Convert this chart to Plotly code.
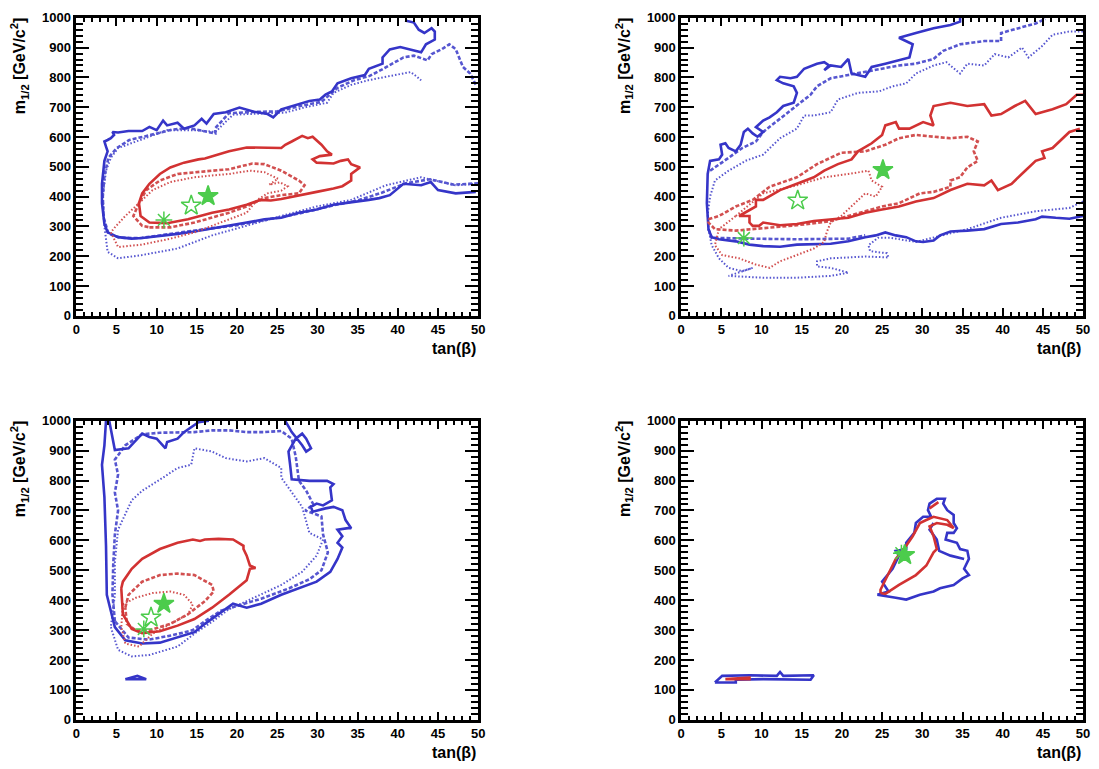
import plotly.graph_objects as go

# ---------------- data (tanβ, m1/2) ----------------
# Panel 1 (top-left)
P1_BLUE_SOLID = [(49.7,416),(47.2,411),(45,422),(44.1,449),(42.9,438),(40.7,443),(39,405),(37.7,395),(36.4,389),
    (34.2,380),(32,373),(29.9,357),(27.7,346),(25.5,329),(23.4,324),(21.2,313),(19,302),(16.9,293),(14.7,283),
    (12.6,275),(10.4,267),(8.2,261),(6.9,259),(5.2,264),(3.9,280),(3.5,308),(3.2,378),(3.2,443),(3.5,520),
    (3.9,552),(3.7,568),(3.5,585),(3.9,590),(4.3,596),(4.7,607),(4.5,617),(5.2,615),(6.5,620),(8.2,620),
    (9.1,634),(10,623),(10.8,655),(11.3,639),(12.6,648),(13.4,628),(14.7,639),(15.6,661),(16.2,645),(17.1,677),
    (18.6,683),(20.3,699),(22.1,685),(23.8,677),(24.5,666),(25.5,693),(27.7,710),(29,721),(30.3,726),(31,742),
    (31.8,753),(32.5,780),(34.2,797),(35.9,808),(36.4,829),(38.1,846),(38.1,867),(39,894),(40.3,902),(42,889),
    (42.9,884),(43.5,911),(44.6,927),(44.6,954),(44.2,965),(43.3,949),(42.6,960),(42,984),(40.9,991)]
P1_BLUE_DASH = [(50,445),(47,440),(44,458),(41,445),(38,413),(35,387),(32,371),(28,345),(24,324),(20,304),
    (16,291),(12,276),(8,261),(5.5,262),(4,276),(3.4,330),(3.3,400),(3.5,470),(4,530),(5,562),(6.6,590),(8.5,602),
    (10,612),(12,625),(14,630),(16,620),(17.3,612),(17.3,630),(19,680),(22,684),(25,686),(28,705),(30.5,718),
    (32.5,765),(34.5,790),(36.5,805),(38,826),(40.7,867),(42,873),(43.7,857),(44.2,878),(45.5,895),(46.4,911),
    (47.2,895),(48.1,835),(49,813),(49.8,770)]
P1_BLUE_DOT = [(49.8,443),(47.2,438),(42.9,465),(38.5,438),(34.2,389),(29.9,367),(25.5,335),(21.2,302),
    (16.9,270),(12.6,226),(8.2,204),(5.2,193),(3.9,215),(3.5,300),(3.3,400),(3.7,487),(4.3,530),(5.2,563),
    (7.4,585),(9.1,601),(11.3,623),(14.7,623),(17.3,617),(19.5,675),(23,680),(26,682),(28.5,700),(31.2,715),
    (32,748),(34.2,775),(36.4,791),(38.5,802),(40.3,813),(41.6,818),(42.4,802),(42.9,790)]
P1_RED_SOLID = [(7.8,378),(8,335),(9.1,313),(11.3,311),(13.9,324),(16.9,346),(19,357),(21.2,373),(22.9,389),
    (24.2,387),(25.5,392),(27.7,405),(29.9,416),(32,427),(33.1,435),(34.2,454),(34.2,476),(35.3,498),(34.2,509),
    (33.8,525),(32.9,520),(32,511),(29.9,514),(29.4,525),(30.3,536),(31.8,541),(31.2,552),(30.5,574),(29.9,590),
    (29.4,601),(28.8,596),(28.1,604),(26.8,585),(26,574),(25.5,563),(23.4,563),(21.2,565),(19,552),(16.9,536),
    (16,528),(15.2,525),(13.4,514),(11.7,498),(10.4,476),(9.1,443),(8.2,411),(7.8,378)]
P1_RED_DASH = [(9.1,297),(11.7,297),(14.7,313),(16.9,329),(19,346),(21.2,367),(23.4,395),(25.5,405),(27.7,411),
    (28.4,438),(27.7,454),(25.5,487),(23.4,509),(21.9,511),(19,492),(16.9,487),(14.7,482),(12.6,476),(10.4,454),
    (8.7,422),(7.8,378),(7.1,335),(8.2,302),(9.1,297)]
P1_RED_DOT = [(4.3,280),(5.2,231),(8.2,239),(11.7,259),(14.7,280),(16.9,302),(19,324),(21.2,346),(22.5,389),
    (23.8,411),(25.5,420),(26.3,435),(25.3,448),(24,440),(25.1,460),(23.4,482),(21.6,487),(19,476),(16.9,471),
    (14.7,465),(11.7,449),(9.5,422),(7.8,378),(6.1,335),(4.8,297),(4.3,280)]
P1_MARK_X = [16.4, 14.3, 10.9]
P1_MARK_Y = [402, 370, 322]

# Panel 2 (top-right)
P2_BLUE_SOLID = [(50,335),(48.3,326),(46.6,329),(44.9,333),(44.1,324),(41.9,313),(39.8,308),(37.7,291),(35.6,286),
    (33.5,283),(32.2,270),(31.4,253),(30.1,248),(29.2,250),(28,264),(26.7,270),(25.4,280),(24.2,270),(22.9,264),
    (20.8,250),(18.6,242),(14.4,239),(12.3,232),(10.2,234),(8.5,239),(6.8,250),(4.7,257),(3.8,264),(3.4,291),
    (3.2,378),(3.3,476),(3.6,520),(4.7,525),(5.1,541),(4.9,574),(5.5,579),(5.9,563),(6.8,552),(7.4,574),
    (7.8,617),(8.3,628),(8.9,612),(9.5,601),(10.2,617),(9.3,633),(10.2,655),(11,666),(11.9,683),(12.7,704),
    (14,715),(14.4,748),(14,770),(12.7,780),(11.9,791),(12.3,802),(13.6,797),(14.4,802),(15.3,829),(16.9,846),
    (17.8,851),(18.4,840),(17.8,824),(18.6,840),(19.9,835),(20.8,862),(21.2,813),(22.9,802),(23.7,835),
    (25.4,846),(27.1,857),(28.4,867),(28.8,911),(27.1,933),(29.2,949),(31.4,965),(33.5,976),(34.7,987),(34.7,1000)]
P2_BLUE_DASH = [(3.4,291),(3.8,262),(8.5,259),(14.4,257),(20.8,259),(22.9,270)]
P2_BLUE_DASH2 = [(3.6,487),(4.7,509),(5.9,530),(7.6,563),(9.3,585),(10.2,617),(12.3,661),(14.4,704),(16.1,742),
    (16.9,770),(18.6,797),(20.8,808),(22.9,818),(25,829),(27.1,840),(29.2,846),(31.4,862),(32.6,889),(34.7,911),
    (37.7,922),(39.8,922),(39.8,949),(41.9,965),(44.1,981),(45.3,996)]
P2_BLUE_DOT = [(50,384),(48.3,362),(44.1,351),(39.8,329),(35.6,291),(31.4,262),(29.2,248),(26,262),(24.5,262),
    (23.3,237),(23.5,217),(25.6,210),(25.8,196),(22.9,199),(18.6,193),(16.9,183),(16.9,166),(18.6,161),
    (20.8,145),(18.6,134),(14.4,128),(10.2,128),(5.9,134),(8.9,161),(7.6,150),(5.9,161),(4.7,193),(3.8,237),
    (3.4,291),(3.3,340),(3.6,400),(4.2,454),(5.9,487),(8,520),(10.2,541),(12.3,596),(14.4,628),(15.3,672),
    (16.5,672),(18.6,683),(19.5,726),(22,748),(24.6,753),(26.3,770),(28,780),(29.2,813),(31.4,840),(33,851),
    (34.7,813),(35.6,846),(37.7,840),(39,878),(40.7,867),(42.4,900),(43.2,867),(44.9,905),(46.2,943),
    (48.3,954),(50,954)]
P2_RED_SOLID = [(49.6,628),(48.3,617),(46.2,563),(44.9,552),(45.2,530),(44.1,520),(42.8,487),(41.1,443),
    (39.4,422),(38.6,454),(37.7,438),(35.6,443),(33.5,422),(31.4,395),(29.2,384),(27.1,367),(25,357),(22.9,346),
    (20.8,329),(18.6,324),(16.5,318),(14.4,308),(12.3,304),(10.2,313),(9.7,302),(8.9,302),(8.5,313),(8.5,335),
    (7.2,335),(9.3,367),(9.3,389),(10.2,389),(12.3,422),(14.4,443),(16.5,465),(17.8,487),(19.5,509),(21.2,525),
    (22,552),(23.7,579),(25,607),(25.4,639),(26.7,650),(27.1,628),(28.4,628),(30.1,650),(31.4,639),(31,672),
    (31.4,704),(33.5,715),(35.6,704),(37.7,710),(38.6,672),(39.8,677),(41.5,704),(42.8,721),(44.1,677),
    (46.2,693),(47.9,710),(49.2,742),(50,742)]
P2_RED_DASH = [(3.4,324),(4.7,335),(6.8,367),(8.9,389),(11,433),(14.4,465),(16.9,509),(19.9,547),(22.9,552),
    (25.4,574),(27.1,596),(29.2,607),(31.4,601),(33.5,596),(35.6,601),(36.9,585),(36.4,552),(36.9,520),
    (35.6,498),(34.7,465),(33.5,454),(33.5,433),(31.4,416),(29.7,411),(27.1,378),(25,367),(22.9,351),(20.8,335),
    (18.6,318),(14.4,304),(10.2,293),(6.8,286),(4.2,291),(3.4,313),(3.4,324)]
P2_RED_DOT = [(6.8,335),(10.2,411),(14.4,438),(17.8,465),(20.8,476),(23.3,487),(23.7,454),(25,433),(24.2,400),
    (22.9,411),(21.6,378),(19.9,335),(18.6,313),(18.1,280),(17.8,248),(16.5,226),(14.4,204),(12.3,183),
    (11,161),(9.3,172),(7.2,193),(5.1,204),(4.2,237),(4.7,291),(6.8,335)]
P2_MARK_X = [25.1, 14.5, 7.8]
P2_MARK_Y = [489, 387, 261]

# Panel 3 (bottom-left)
P3_BLUE_SOLID = [(3.7,1000),(3.5,918),(3.2,853),(3.5,745),(3.7,582),(3.8,418),(4.3,364),(4.8,310),(6.1,266),
    (8.2,255),(10.4,258),(12.6,277),(14.7,293),(16,321),(17.7,353),(19.5,388),(21.2,375),(23,388),(25.5,418),
    (27.7,440),(29.9,462),(31.6,495),(32.5,538),(33.1,576),(32.5,592),(33.1,614),(32.5,636),(33.8,641),
    (34.2,641),(33.5,668),(33.1,701),(32,712),(31,707),(29.4,696),(29.2,712),(29.9,723),(30.7,717),(31.8,734),
    (31.6,777),(32,788),(31.2,799),(29,799),(26.8,804),(26.6,853),(26.4,897),(27.3,940),(28.1,957),(28.6,940),
    (29.2,908),(28.6,897),(28.1,918),(26.8,962),(26,1000)]
P3_BLUE_SOLID2 = [(16.5,1000),(15.2,995),(13.4,962),(12.6,940),(11.3,929),(11.1,908),(10,940),(9.1,946),
    (8.2,957),(7.4,935),(6.5,908),(4.8,902),(4.5,946),(4.1,1000)]
P3_BLUE_BLOB = [(6.1,136),(7.6,147),(8.7,136),(6.1,136)]
P3_BLUE_DASH = [(4.8,330),(4.5,420),(4.6,520),(4.8,620),(5.2,700),(4.8,760),(5.2,820),(4.8,870),(6.1,918),
    (8.2,955),(10.4,960),(12.6,962),(14.7,962),(16.9,968),(19,968),(21.2,962),(23.4,962),(25.5,966),(26.8,940),
    (27.3,880),(27.7,800),(28.6,766),(29.5,720),(28.5,700),(30.5,680),(30.7,620),(31.3,560),(30.5,500),
    (29,470),(26.5,440),(23,405),(20.5,385),(18,365),(16,330),(14.5,300),(12,283),(9,268),(6.5,275),(4.8,330)]
P3_BLUE_DOT = [(4.3,310),(5.2,234),(6.9,212),(9.1,217),(12.6,245),(14.7,288),(17,330),(19,370),(21.2,397),
    (25.5,451),(28.1,495),(29.9,549),(30.7,603),(29,625),(28.1,712),(25.5,810),(25.5,842),(23.4,875),
    (21.2,864),(18.6,875),(16.9,897),(14.7,908),(14.3,853),(12.6,842),(10.8,810),(8.2,766),(6.9,734),
    (5.2,636),(4.8,527),(4.8,418),(4.3,310)]
P3_RED_SOLID = [(5.6,440),(5.8,353),(6.9,304),(8.2,290),(10.4,296),(12.6,315),(14.7,337),(16.9,375),(19,418),
    (21.2,467),(21.6,505),(22.3,508),(21.6,516),(21.2,549),(20.8,571),(20.8,582),(19.5,603),(17.7,605),
    (16,603),(15.4,598),(14.5,603),(12.6,592),(10.4,571),(8.2,538),(6.9,505),(5.8,462),(5.6,440)]
P3_RED_DASH = [(6.1,375),(6.5,418),(8.2,462),(10.4,484),(12.6,489),(14.7,484),(16.9,451),(17.1,429),(16,397),
    (13.9,353),(11.7,321),(9.1,299),(7.4,299),(6.3,321),(6.1,375)]
P3_RED_DOT = [(5.8,386),(7.4,408),(9.5,424),(11.7,429),(13.4,418),(14.5,386),(13.9,353),(11.7,321),(9.5,288),
    (7.8,245),(6.1,255),(5.6,310),(5.8,386)]
P3_MARK_X = [10.9, 9.3, 8.4]
P3_MARK_Y = [388, 342, 304]

# Panel 4 (bottom-right)
P4_BLUE_SOLID = [(24.4,418),(25.8,429),(25,462),(26.3,505),(27.1,549),(26.7,565),(28,571),(28,592),(29,625),
    (29.2,658),(30.1,679),(31.1,679),(30.7,701),(30.9,723),(31.8,739),(32.8,739),(32.6,723),(33.1,701),
    (33.9,685),(33.9,658),(34.3,641),(33.9,625),(33.1,625),(32.9,603),(34.3,592),(34.7,571),(35.6,565),
    (35.8,538),(35.2,505),(35.8,484),(35,473),(33.9,451),(32.2,440),(31.4,429),(29.7,418),(28,402),(26.7,408),
    (25.4,413),(24.4,418)]
P4_BLUE_SOLID2 = [(31.4,658),(30.9,636),(31.8,603),(32.1,565),(33.5,549),(35.2,538)]
P4_BLUE_LOW = [(4.2,125),(5.1,147),(8.5,149),(11.9,147),(12.3,160),(12.7,147),(16.5,149),(16.1,134),(10.2,136),
    (6.8,134),(6.8,125),(4.2,125)]
P4_RED_SOLID = [(24.8,424),(25.4,421),(27.1,451),(29.2,484),(30.5,516),(31.4,560),(31.8,571),(31.4,614),
    (30.9,647),(31.8,658),(33.1,652),(33.9,641),(33.1,668),(31.4,679),(30.5,668),(29.7,658),(28.8,614),
    (28,582),(26.7,538),(25.8,489),(24.8,435),(24.8,424)]
P4_RED_SOLID2 = [(30.9,707),(32,728)]
P4_RED_LOW = [(5.5,136),(8.5,141),(8.5,136),(5.5,136)]
P4_MARK_X = [27.8, 27.4]
P4_MARK_Y = [551, 557]

X_TICKS = list(range(0, 51, 5))
Y_TICKS = list(range(0, 1001, 100))

# ---------------- styles ----------------
BLUE = "#3535c8"
BLUE_L = "#5656d0"
RED = "#d23232"
RED_L = "#d25050"
GREEN = "#4ccc4c"

STYLES = {
    "bs": dict(color=BLUE, width=2.6, dash="solid"),
    "bd": dict(color=BLUE_L, width=2.6, dash="4px,2px"),
    "bo": dict(color=BLUE_L, width=2.0, dash="1.5px,2px"),
    "rs": dict(color=RED, width=2.6, dash="solid"),
    "rd": dict(color=RED_L, width=2.6, dash="4px,2px"),
    "ro": dict(color=RED_L, width=2.0, dash="1.5px,2px"),
}

PANELS = [
    ([("bo", P1_BLUE_DOT), ("bd", P1_BLUE_DASH), ("bs", P1_BLUE_SOLID), ("ro", P1_RED_DOT),
      ("rd", P1_RED_DASH), ("rs", P1_RED_SOLID)], P1_MARK_X, P1_MARK_Y, ["star", "star-open", "asterisk-open"]),
    ([("bo", P2_BLUE_DOT), ("bd", P2_BLUE_DASH), ("bd", P2_BLUE_DASH2), ("bs", P2_BLUE_SOLID),
      ("ro", P2_RED_DOT), ("rd", P2_RED_DASH), ("rs", P2_RED_SOLID)], P2_MARK_X, P2_MARK_Y,
     ["star", "star-open", "asterisk-open"]),
    ([("bo", P3_BLUE_DOT), ("bd", P3_BLUE_DASH), ("bs", P3_BLUE_SOLID), ("bs", P3_BLUE_SOLID2),
      ("bs", P3_BLUE_BLOB), ("ro", P3_RED_DOT), ("rd", P3_RED_DASH), ("rs", P3_RED_SOLID)],
     P3_MARK_X, P3_MARK_Y, ["star", "star-open", "asterisk-open"]),
    ([("bs", P4_BLUE_SOLID), ("bs", P4_BLUE_SOLID2), ("bs", P4_BLUE_LOW), ("rs", P4_RED_SOLID),
      ("rs", P4_RED_SOLID2), ("rs", P4_RED_LOW)], P4_MARK_X, P4_MARK_Y, ["star", "asterisk-open"]),
]

W, H = 1099, 769
XDOM = [[73 / W, 479 / W], [684 / W, 1090 / W]]
YDOM = [[(H - 315) / H, (H - 11) / H], [(H - 727) / H, (H - 422) / H]]

fig = go.Figure()
FONT = "Liberation Sans"

for i, (curves, mx, my, syms) in enumerate(PANELS):
    n = i + 1
    xa = "x" if n == 1 else f"x{n}"
    ya = "y" if n == 1 else f"y{n}"
    for key, pts in curves:
        st = STYLES[key]
        fig.add_trace(go.Scatter(x=[p[0] for p in pts], y=[p[1] for p in pts], mode="lines",
                                 line=dict(color=st["color"], width=st["width"], dash=st["dash"]),
                                 xaxis=xa, yaxis=ya, showlegend=False, hoverinfo="skip"))
    for sx, sy, sym in zip(mx, my, syms):
        size = 15 if sym.startswith("star") else 14
        fig.add_trace(go.Scatter(x=[sx], y=[sy], mode="markers",
                                 marker=dict(symbol=sym, size=size, color=GREEN,
                                             line=dict(color=GREEN, width=1.5)),
                                 xaxis=xa, yaxis=ya, showlegend=False, hoverinfo="skip"))
    col = i % 2
    row = i // 2
    axfont = dict(family=FONT, size=13, color="black")
    xkey = "xaxis" if n == 1 else f"xaxis{n}"
    ykey = "yaxis" if n == 1 else f"yaxis{n}"
    fig.update_layout(**{
        xkey: dict(domain=XDOM[col], anchor=ya, range=[0, 50], tickmode="array", tickvals=X_TICKS,
                   ticktext=[f"<b>{v}</b>" for v in X_TICKS], ticks="inside",
                   ticklen=8, tickwidth=2, tickcolor="black", showline=True, linewidth=2.5,
                   linecolor="black", mirror="allticks", showgrid=False, zeroline=False,
                   tickfont=axfont, minor=dict(dtick=1, tick0=0, ticks="inside", ticklen=4, tickwidth=1.5,
                                                tickcolor="black", showgrid=False)),
        ykey: dict(domain=YDOM[row], anchor=xa, range=[0, 1000], tickmode="array", tickvals=Y_TICKS,
                   ticktext=[f"<b>{v}</b>" for v in Y_TICKS], ticks="inside",
                   ticklen=13, tickwidth=2, tickcolor="black", showline=True, linewidth=2.5,
                   linecolor="black", mirror="allticks", showgrid=False, zeroline=False,
                   tickfont=axfont, minor=dict(dtick=20, tick0=0, ticks="inside", ticklen=7, tickwidth=1.5,
                                                tickcolor="black", showgrid=False)),
    })
    xr = XDOM[col][1]
    ybot = YDOM[row][0]
    ytop = YDOM[row][1]
    fig.add_annotation(text="<b>tan(β)</b>", xref="paper", yref="paper", x=xr, y=ybot - 33 / H,
                       xanchor="right", yanchor="middle", showarrow=False,
                       font=dict(family=FONT, size=16, color="black"))
    fig.add_annotation(text="<b>m<sub>1/2</sub> [GeV/c<sup>2</sup>]</b>", xref="paper", yref="paper",
                       x=XDOM[col][0] - 57 / W, y=ytop + 3 / H, xanchor="center", yanchor="top",
                       textangle=-90, showarrow=False,
                       font=dict(family=FONT, size=16, color="black"))

fig.update_layout(width=W, height=H, margin=dict(l=0, r=0, t=0, b=0),
                  paper_bgcolor="white", plot_bgcolor="white", showlegend=False)

fig.write_html("out.html", config={"displayModeBar": False})
with open("out.html", "r", encoding="utf-8") as f:
    html = f.read()
html = html.replace("<head>", "<head><style>html,body{margin:0;padding:0;overflow:hidden;}</style>", 1)
with open("out.html", "w", encoding="utf-8") as f:
    f.write(html)
